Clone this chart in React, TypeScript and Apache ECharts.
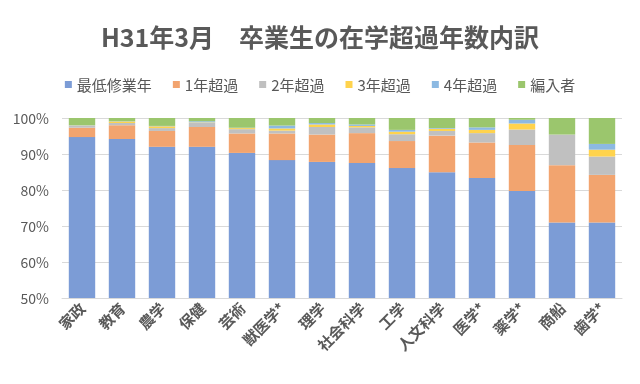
import React, { useEffect, useRef } from "react";
import * as echarts from "echarts";

const titleText = "H31年3月　卒業生の在学超過年数内訳";
const categories = ["家政", "教育", "農学", "保健", "芸術", "獣医学*", "理学", "社会科学", "工学", "人文科学", "医学*", "薬学*", "商船", "歯学*"];
const seriesNames = ["最低修業年", "1年超過", "2年超過", "3年超過", "4年超過", "編入者"];
const minYears = [94.7, 94.2, 92.0, 92.0, 90.3, 88.3, 87.8, 87.5, 86.1, 84.9, 83.3, 79.7, 71.0, 71.0];
const over1 = [2.6, 3.8, 4.4, 5.5, 5.4, 7.4, 7.6, 8.3, 7.5, 10.2, 9.9, 12.8, 15.9, 13.2];
const over2 = [0.5, 0.6, 0.8, 1.2, 1.2, 0.8, 2.1, 1.6, 1.9, 1.3, 2.6, 4.3, 8.5, 5.1];
const over3 = [0.1, 0.4, 0.5, 0.1, 0.3, 0.6, 0.7, 0.4, 0.7, 0.6, 0.9, 1.7, 0, 1.9];
const over4 = [0.1, 0.1, 0.1, 0.3, 0.1, 0.8, 0.4, 0.4, 0.5, 0.2, 0.7, 1.0, 0, 1.6];
const transfer = [2.0, 0.9, 2.2, 0.9, 2.7, 2.1, 1.4, 1.8, 3.3, 2.8, 2.6, 0.5, 4.6, 7.2];
const yMin = 50;
const yMax = 100;
const yInterval = 10;

const colors = ["#7C9CD6", "#F2A46F", "#C0C0C0", "#FFD34D", "#8CB9E2", "#9BC66D"];
const FONT = "'Noto Sans CJK JP', 'Noto Sans', sans-serif";

export default function App() {
  const ref = useRef<HTMLDivElement>(null);
  useEffect(() => {
    if (!ref.current) return;
    const chart = echarts.init(ref.current, undefined, { renderer: "svg" });
    const values = [minYears, over1, over2, over3, over4, transfer];
    chart.setOption({
      animation: false,
      color: colors,
      textStyle: { fontFamily: FONT },
      title: {
        text: titleText,
        left: "center",
        top: 18,
        textStyle: { fontSize: 25, fontWeight: "bold", color: "#595959", fontFamily: FONT },
      },
      legend: {
        top: 72,
        left: "center",
        icon: "rect",
        itemWidth: 7,
        itemHeight: 7,
        itemGap: 21,
        textStyle: { fontSize: 15, color: "#595959", fontFamily: FONT },
        data: seriesNames,
      },
      grid: { left: 62, right: 18, top: 118, bottom: 86, containLabel: false },
      xAxis: {
        type: "category",
        data: categories,
        axisLine: { lineStyle: { color: "#d9d9d9", width: 1 } },
        axisTick: { show: false },
        axisLabel: {
          rotate: 45,
          interval: 0,
          margin: 7,
          fontSize: 15,
          fontWeight: "bold",
          color: "#595959",
          fontFamily: FONT,
        },
      },
      yAxis: {
        type: "value",
        min: yMin,
        max: yMax,
        interval: yInterval,
        axisLine: { show: false },
        axisTick: { show: false },
        splitLine: { lineStyle: { color: "#d9d9d9", width: 1 } },
        axisLabel: {
          formatter: "{value}%",
          fontSize: 14,
          color: "#595959",
          margin: 13,
          fontFamily: FONT,
        },
      },
      series: seriesNames.map((name, i) => ({
        name,
        type: "bar",
        stack: "total",
        barCategoryGap: "34%",
        clip: true,
        data: values[i],
        itemStyle: { color: colors[i] },
      })),
    });
    return () => chart.dispose();
  }, []);
  return <div ref={ref} style={{ position: "fixed", left: 0, top: 0, width: 640, height: 384 }} />;
}
